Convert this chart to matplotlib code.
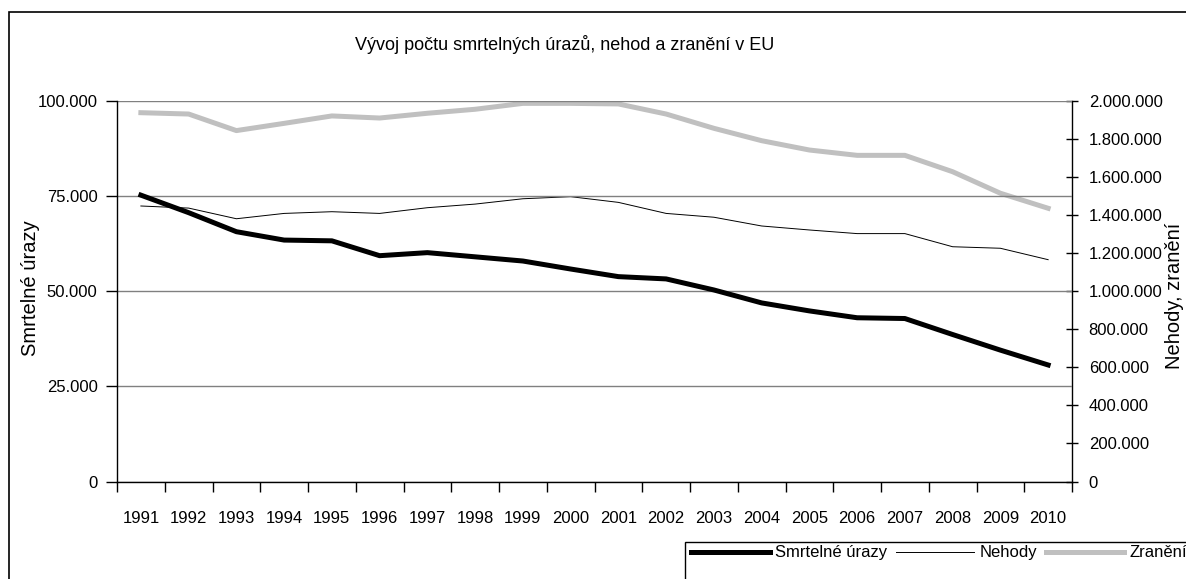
import matplotlib
matplotlib.use('Agg')
import matplotlib.pyplot as plt
from matplotlib.patches import Rectangle
from matplotlib.ticker import FuncFormatter, MultipleLocator
import numpy as np

plt.rcParams['font.family'] = ['Liberation Sans', 'DejaVu Sans']

# data
years = ['1991', '1992', '1993', '1994', '1995', '1996', '1997', '1998', '1999', '2000',
         '2001', '2002', '2003', '2004', '2005', '2006', '2007', '2008', '2009', '2010']
smrtelne = [75200, 70600, 65600, 63400, 63200, 59300, 60100, 59000, 57900, 55800,
            53800, 53200, 50300, 46900, 44800, 43000, 42800, 38600, 34500, 30600]
nehody = [1447000, 1436000, 1380000, 1408000, 1417000, 1408000, 1438000, 1457000, 1485000, 1496000,
          1466000, 1408000, 1388000, 1342000, 1321000, 1302000, 1302000, 1233000, 1225000, 1165000]
zraneni = [1937000, 1930000, 1843000, 1881000, 1920000, 1909000, 1934000, 1955000, 1986000, 1986000,
           1983000, 1930000, 1855000, 1790000, 1741000, 1713000, 1713000, 1627000, 1514000, 1435000]

W, H = 1186, 579


def thousands(v, pos):
    return f'{int(round(v)):,}'.replace(',', '.')


fig = plt.figure(figsize=(W / 100, H / 100), dpi=100)
ax = fig.add_axes([117 / W, 1 - 481.5 / H, (1072 - 117) / W, (481.5 - 100.7) / H])
ax2 = ax.twinx()

x = np.arange(len(years))

# gridlines of the left axis
ax.set_ylim(0, 100000)
ax.yaxis.set_major_locator(MultipleLocator(25000))
ax.yaxis.set_major_formatter(FuncFormatter(thousands))
ax.grid(axis='y', color='#808080', linewidth=1.0)
ax.set_axisbelow(True)

l1, = ax.plot(x, smrtelne, color='black', linewidth=3.6, solid_joinstyle='round', zorder=5)
l2, = ax2.plot(x, nehody, color='black', linewidth=0.7, zorder=4)
l3, = ax2.plot(x, zraneni, color='#c0c0c0', linewidth=3.6, zorder=3)

ax2.set_ylim(0, 2000000)
ax2.yaxis.set_major_locator(MultipleLocator(200000))
ax2.yaxis.set_major_formatter(FuncFormatter(thousands))

ax.set_xlim(-0.5, len(years) - 0.5)
ax.set_xticks(x)
ax.set_xticklabels(years)
ax.set_xticks(np.arange(len(years) + 1) - 0.5, minor=True)
ax.tick_params(axis='x', which='major', length=0, pad=21, labelsize=12)
ax.tick_params(axis='x', which='minor', length=7, width=1, direction='out')
ax.tick_params(axis='y', length=8, width=1, direction='out', pad=6, labelsize=12)
ax2.tick_params(axis='y', length=8, width=1, direction='inout', pad=8, labelsize=12)

for a in (ax, ax2):
    a.spines['top'].set_visible(False)
    for s in ('left', 'right', 'bottom'):
        a.spines[s].set_color('black')
        a.spines[s].set_linewidth(1.0)
ax2.spines['left'].set_visible(False)
ax2.spines['bottom'].set_visible(False)
ax.spines['right'].set_visible(False)
ax.set_zorder(ax2.get_zorder() + 1)
ax.patch.set_visible(False)

fig.text(565 / W, 1 - 44 / H, 'Vývoj počtu smrtelných úrazů, nehod a zranění v EU',
         ha='center', va='center', fontsize=13)
fig.text(31 / W, 1 - 288 / H, 'Smrtelné úrazy', rotation=90, ha='center', va='center', fontsize=14.5)
fig.text(1175 / W, 1 - 296 / H, 'Nehody, zranění', rotation=90, ha='center', va='center', fontsize=14.5)

leg = fig.legend([l1, l2, l3], ['Smrtelné úrazy', 'Nehody', 'Zranění'],
                 loc='upper left', bbox_to_anchor=(688 / W, 1 - 542 / H), borderaxespad=0,
                 ncol=3, fontsize=12, handlelength=4.7, handletextpad=0.3, columnspacing=0.55,
                 borderpad=0.2, frameon=False)

# legend frame, cut off by the figure edge like in the reference
fig.patches.append(Rectangle((685 / W, -0.5), 1.0, 0.5 + 1 - 542 / H, transform=fig.transFigure,
                             fill=False, edgecolor='black', linewidth=1.0))

# outer chart border, cut off at the right and bottom
fig.patches.append(Rectangle((9 / W, -0.5), 1.5, 1.5 - 12 / H, transform=fig.transFigure,
                             fill=False, edgecolor='black', linewidth=1.2))

fig.savefig('out.png', dpi=100)
plt.close()
